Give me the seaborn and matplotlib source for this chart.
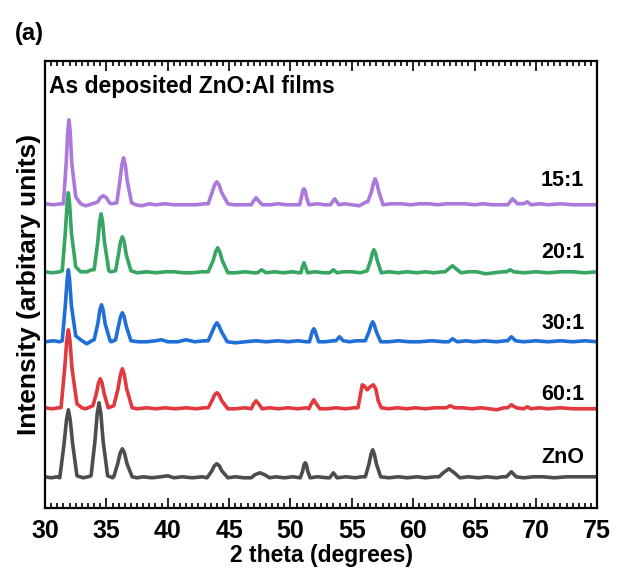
import numpy as np
import pandas as pd
import seaborn as sns
from matplotlib import pyplot as plt
from matplotlib.ticker import MultipleLocator

# XRD patterns: 2theta (deg) and intensity above each baseline
zno_x = [30.0, 30.5, 31.0, 31.2, 31.55, 31.75, 31.9, 32.05, 32.25, 32.6, 33.1, 33.5,
         33.75, 34.07, 34.25, 34.4, 34.55, 34.73, 35.1, 35.5, 35.6, 35.92, 36.13, 36.3,
         36.47, 36.68, 37.1, 37.5, 38.0, 38.7, 39.4, 40.0, 40.5, 41.2, 42.0, 42.8, 43.2,
         43.6, 43.8, 44.0, 44.2, 44.4, 44.9, 45.5, 46.2, 46.8, 47.1, 47.5, 47.9, 48.3,
         48.8, 49.5, 50.2, 50.8, 51.0, 51.1, 51.2, 51.3, 51.4, 51.6, 52.2, 53.0, 53.2,
         53.5, 53.8, 54.5, 55.3, 55.8, 56.1, 56.4, 56.57, 56.7, 56.83, 57.0, 57.35, 58.0,
         58.8, 59.5, 60.3, 61.0, 61.8, 62.1, 62.45, 62.9, 63.35, 63.8, 64.5, 65.3, 66.0,
         66.8, 67.3, 67.6, 68.0, 68.4, 69.0, 69.8, 70.6, 71.5, 72.5, 73.5, 74.3, 75.0]
zno_y = [1, 0, 1, 0, 34, 58, 68, 58, 34, 2, 0, 1,
         2, 37, 64, 75, 64, 37, 2, 0, 1, 14, 25, 29,
         25, 14, 1, 0, 1, 0, 1, 2, 0, 1, 0, 1, 0,
         7, 12, 14, 12, 7, 0, 1, 0, 0, 3, 5, 3, 0,
         1, 0, 1, 0, 7, 13, 15, 13, 7, 0, 1, 0, 0,
         5, 0, 1, 0, 1, 1, 14, 24, 28, 24, 14, 1, 0,
         1, 0, 1, 0, 1, 1, 5, 9, 5, 0, 1, 0, 1,
         0, 1, 1, 6, 1, 0, 1, 1, 0, 1, 1, 1, 1]

r60_x = [30.0, 30.6, 31.1, 31.3, 31.6, 31.77, 31.9, 32.03, 32.2, 32.6, 33.0, 33.3, 33.7,
         33.9, 34.18, 34.36, 34.5, 34.64, 34.82, 35.15, 35.6, 35.95, 36.14, 36.3, 36.46,
         36.65, 37.1, 37.5, 38.3, 39.0, 39.8, 40.6, 41.5, 42.3, 43.0, 43.3, 43.6, 43.82,
         44.0, 44.18, 44.4, 44.9, 45.5, 46.3, 46.8, 47.0, 47.2, 47.4, 47.7, 48.3, 49.0,
         49.8, 50.6, 51.3, 51.5, 51.7, 51.9, 52.1, 52.4, 53.0, 53.7, 54.5, 55.2, 55.5,
         55.7, 55.85, 56.0, 56.25, 56.5, 56.75, 56.95, 57.15, 57.4, 58.0, 58.7, 59.5,
         60.2, 61.0, 61.8, 62.5, 62.7, 63.0, 63.4, 64.0, 64.8, 65.5, 66.2, 66.8, 67.4,
         67.7, 68.0, 68.4, 69.0, 69.3, 69.6, 70.3, 71.0, 72.0, 73.0, 74.0, 75.0]
r60_y = [1, 0, 1, 1, 40, 68, 79, 68, 40, 5, 1, 0, 2,
         3, 15, 26, 30, 26, 15, 1, 3, 20, 34, 40, 34,
         20, 1, 0, 1, 0, 1, 0, 1, 0, 1, 1, 8, 14,
         16, 14, 8, 0, 0, 1, 0, 5, 8, 5, 0, 1, 0,
         1, 0, 1, 0, 5, 9, 5, 0, 0, 1, 0, 1, 1,
         14, 24, 23, 19, 22, 24, 20, 8, 1, 0, 1, 0,
         1, 0, 1, 1, 1, 3, 1, 1, 0, 1, 0, -1, 1,
         1, 4, 1, 0, 2, 0, 1, 0, 1, 0, 0, 0]

r30_x = [30.0, 30.7, 31.2, 31.4, 31.65, 31.8, 31.9, 32.0, 32.15, 32.5, 32.9, 33.4, 33.8,
         34.0, 34.3, 34.47, 34.6, 34.73, 34.9, 35.3, 35.4, 35.75, 35.97, 36.15, 36.3,
         36.45, 36.63, 37.0, 37.6, 38.3, 39.0, 39.5, 40.0, 40.8, 41.5, 42.2, 43.0, 43.3,
         43.62, 43.83, 44.0, 44.17, 44.38, 44.85, 45.5, 46.3, 47.2, 48.0, 49.0, 49.8,
         50.6, 51.3, 51.55, 51.7, 51.8, 51.9, 52.0, 52.1, 52.3, 52.8, 53.5, 53.7, 54.0,
         54.3, 54.8, 55.4, 56.0, 56.1, 56.4, 56.57, 56.7, 56.83, 57.0, 57.35, 58.0, 58.8,
         59.7, 60.5, 61.5, 62.5, 62.9, 63.2, 63.6, 64.3, 65.0, 65.8, 66.8, 67.5, 67.7,
         68.0, 68.35, 69.0, 70.0, 71.0, 72.0, 73.0, 74.0, 75.0]
r30_y = [0, 1, 0, 1, 36, 62, 72, 62, 36, 6, 2, -2, 1,
         2, 18, 32, 37, 32, 18, 1, 0, 2, 15, 25, 29,
         25, 15, 1, 0, 0, 1, 2, 0, 0, 2, 0, 1, 1,
         10, 16, 19, 16, 10, 0, -1, 0, 1, 0, 1, 0,
         1, 0, 0, 7, 11, 13, 11, 7, 0, 0, 1, 1, 5,
         1, 0, 1, 1, 1, 10, 17, 20, 17, 10, 0, 0, 1,
         0, 0, 1, 0, 0, 3, 0, 1, 0, 1, 0, 1, 1,
         5, 1, 0, 1, 0, 1, 0, 1, 0]

r20_x = [30.0, 30.6, 31.2, 31.4, 31.65, 31.8, 31.9, 32.0, 32.15, 32.5, 32.9, 33.4, 33.8,
         34.0, 34.29, 34.45, 34.57, 34.69, 34.85, 35.2, 35.35, 35.75, 35.98, 36.15, 36.3,
         36.45, 36.62, 37.0, 37.5, 38.3, 39.0, 39.8, 40.5, 41.3, 42.0, 42.8, 43.3, 43.69,
         43.9, 44.07, 44.24, 44.45, 44.9, 45.5, 46.3, 47.0, 47.3, 47.66, 48.0, 48.7, 49.4,
         50.2, 50.7, 50.85, 50.95, 51.1, 51.25, 51.4, 52.0, 52.7, 53.2, 53.5, 53.8, 54.3,
         55.0, 55.7, 56.25, 56.52, 56.68, 56.8, 56.92, 57.08, 57.4, 58.0, 58.8, 59.5, 60.3,
         61.0, 61.7, 62.4, 62.6, 62.9, 63.2, 63.5, 63.9, 64.5, 65.2, 65.9, 66.6, 67.3,
         67.6, 67.9, 68.2, 69.0, 70.0, 71.0, 72.0, 73.0, 74.0, 75.0]
r20_y = [1, 0, 1, 2, 40, 69, 80, 69, 40, 6, 1, 1, 3,
         3, 30, 51, 59, 51, 30, 2, 1, 2, 18, 31, 36,
         31, 18, 2, 0, 1, 0, 1, 1, 0, 0, 1, 1, 12,
         21, 25, 21, 12, 0, 0, 1, 0, 0, 3, 0, 1, 0,
         1, 0, 0, 5, 10, 5, 0, 1, 0, 0, 3, 0, 1,
         1, 0, 2, 12, 20, 23, 20, 12, 0, 1, 0, 1, 0,
         1, 0, 1, 1, 4, 7, 4, 0, 1, 1, -1, 0, 1,
         1, 3, 1, 0, 1, 0, 1, 1, 0, 1]

r15_x = [30.0, 30.7, 31.3, 31.5, 31.73, 31.85, 31.95, 32.05, 32.17, 32.5, 32.9, 33.3, 33.6,
         34.1, 34.3, 34.5, 34.75, 35.0, 35.25, 35.4, 35.85, 36.1, 36.26, 36.4, 36.54,
         36.7, 37.05, 37.4, 37.9, 38.5, 39.0, 39.8, 40.5, 41.5, 42.3, 43.0, 43.3, 43.6,
         43.82, 44.0, 44.18, 44.4, 44.9, 45.4, 46.3, 46.8, 47.0, 47.2, 47.4, 47.7, 48.3,
         49.0, 49.7, 50.5, 50.75, 50.9, 51.0, 51.1, 51.2, 51.3, 51.5, 52.2, 52.8, 53.25,
         53.6, 53.95, 54.4, 55.0, 55.6, 56.2, 56.3, 56.6, 56.77, 56.9, 57.03, 57.2, 57.55,
         58.2, 59.0, 59.8, 60.5, 61.3, 62.0, 62.7, 63.4, 64.2, 65.0, 65.7, 66.5, 67.3,
         67.7, 68.1, 68.5, 69.0, 69.3, 69.6, 70.3, 71.0, 72.0, 73.0, 74.0, 75.0]
r15_y = [1, 0, 1, 1, 43, 73, 85, 73, 43, 8, 1, -1, 0,
         2, 3, 7, 9, 7, 2, 1, 2, 24, 40, 47, 40,
         24, 2, 0, -1, 1, 0, 1, 0, 0, 0, 1, 1, 12,
         20, 23, 20, 12, 1, 0, 0, 0, 4, 7, 4, 0, 0,
         1, 0, 0, 0, 8, 14, 16, 14, 8, 0, 1, 0, 0,
         6, 0, 1, 0, -1, 3, 3, 13, 22, 26, 22, 13, 0,
         1, 1, 0, 1, 1, 0, 1, 1, 1, 0, 1, 0, 0,
         0, 6, 1, 1, 3, 0, 1, 0, 1, 0, 0, 0]

samples = ["ZnO", "60:1", "30:1", "20:1", "15:1"]
pattern_x = [zno_x, r60_x, r30_x, r20_x, r15_x]
pattern_y = [zno_y, r60_y, r30_y, r20_y, r15_y]
baselines = [30, 99, 166, 235, 303]
colors = ["#4d4d4d", "#e0393e", "#1f6fd6", "#37a662", "#ac78dc"]

frames = []
for name, xs, ys, base in zip(samples, pattern_x, pattern_y, baselines):
    frames.append(pd.DataFrame({"two_theta": xs,
                                "intensity": np.array(ys) + base,
                                "sample": name}))
df = pd.concat(frames, ignore_index=True)

sns.set_style("ticks")
plt.rcParams["font.family"] = ["Liberation Sans", "DejaVu Sans"]
plt.rcParams["font.weight"] = "bold"
plt.rcParams["text.color"] = "black"
plt.rcParams["axes.labelcolor"] = "black"
plt.rcParams["xtick.color"] = "black"

fig = plt.figure(figsize=(6.17, 5.68), dpi=100)
ax = fig.add_axes([0.073, 0.106, 0.895, 0.787])

sns.lineplot(data=df, x="two_theta", y="intensity", hue="sample",
             palette=dict(zip(samples, colors)), estimator=None, sort=False,
             linewidth=2.6, legend=False, ax=ax)

ax.set_xlim(30, 75)
ax.set_ylim(0, 447)
ax.xaxis.set_major_locator(MultipleLocator(5))
ax.xaxis.set_minor_locator(MultipleLocator(0.5))
ax.set_yticks([])
ax.tick_params(axis="x", which="both", direction="in", top=True, bottom=True,
               labelsize=18, pad=8, width=1.2, color="black", labelcolor="black")
ax.tick_params(axis="x", which="major", length=7)
ax.tick_params(axis="x", which="minor", length=3.5)
for lab in ax.get_xticklabels():
    lab.set_fontweight("bold")
for sp in ax.spines.values():
    sp.set_linewidth(1.6)
    sp.set_color("black")

ax.set_xlabel("2 theta (degrees)", fontsize=16.5, fontweight="bold", labelpad=1)
ax.set_ylabel("Intensity (arbitary units)", fontsize=19, fontweight="bold", labelpad=3)

# sample labels at the right end of each curve
label_y = [50, 113, 184, 255, 327]
for name, yy in zip(samples, label_y):
    ax.text(73.95, yy, name, ha="right", va="center", fontsize=15.5,
            fontweight="bold", color="black")

ax.text(0.008, 0.968, "As deposited ZnO:Al films", transform=ax.transAxes,
        ha="left", va="top", fontsize=16.5, fontweight="bold", color="black")
fig.text(0.024, 0.962, "(a)", ha="left", va="top", fontsize=17,
         fontweight="bold", color="black")

fig.savefig("out.png", dpi=100)
